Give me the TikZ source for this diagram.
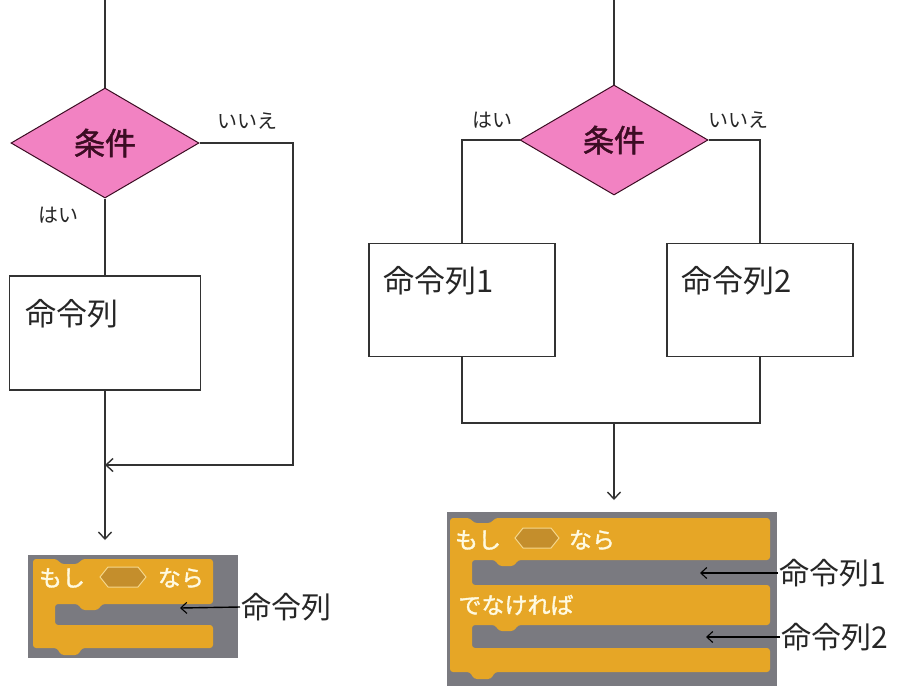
\documentclass[tikz,border=0pt]{standalone}
\usepackage{fontspec}
\setmainfont{Noto Sans CJK JP}
\newfontfamily\jpbold{Noto Sans CJK JP}[FakeBold=1.5]
\usetikzlibrary{shapes.geometric,arrows.meta}
\definecolor{pinkd}{RGB}{242,130,194}
\definecolor{maroon}{RGB}{60,12,35}
\definecolor{lineg}{RGB}{50,50,50}
\definecolor{scrorange}{RGB}{230,166,38}
\definecolor{scrgray}{RGB}{122,122,128}
\definecolor{hexfill}{RGB}{196,142,44}
\definecolor{hexedge}{RGB}{245,215,140}
\definecolor{cream}{RGB}{255,250,225}
\begin{document}
\begin{tikzpicture}[x=1pt,y=-1pt,
  flow/.style={draw=lineg,line width=1.9pt},
  arr/.style={flow,-{Straight Barb[length=7pt,width=13pt,line width=1.4pt]}},
  thinarr/.style={draw=black,line width=1.4pt,-{Straight Barb[length=6pt,width=11pt,line width=1.1pt]}},
  cond/.style={diamond,draw=maroon,line width=1pt,fill=pinkd,inner sep=0pt,minimum width=188pt,minimum height=110pt,font=\fontsize{31}{33}\selectfont\jpbold,text=maroon},
  procbox/.style={rectangle,draw=lineg,line width=1.9pt,fill=white,minimum width=191pt,minimum height=114pt},
  small/.style={font=\fontsize{20}{22}\selectfont,text=black!85},
  boxtext/.style={anchor=west,font=\fontsize{31}{33}\selectfont,text=black!85},
  scrtext/.style={font=\fontsize{23}{25}\selectfont\jpbold,text=cream},
  lbl/.style={anchor=west,font=\fontsize{30}{32}\selectfont,text=black!85,inner sep=1pt}
]
\useasboundingbox (0,0) rectangle (897,686);
\fill[white] (0,0) rectangle (897,686);

% ---------- left flowchart ----------
\coordinate (topL) at (105,0);
\node[cond] (d1) at (105,143) {条件};
\node[procbox] (b1) at (105,333) {};
\node[boxtext] (t1) at (22,314) {命令列};
\node[small] (noL) at (247,121) {いいえ};
\node[small] (yesL) at (58,215) {はい};
\coordinate (c1) at (293,465);
\coordinate (m1) at (105,465);
\coordinate (arrL) at (105,540);
\draw[flow] (topL) -- (d1.north);
\draw[flow] (d1.south) -- (b1.north);
\draw[arr] (b1.south) -- (arrL);
\draw[arr] (d1.east) -| (c1) -- (m1);

% ---------- right flowchart ----------
\coordinate (topR) at (614,0);
\node[cond] (d2) at (614,140) {条件};
\node[procbox,minimum width=186pt,minimum height=113pt] (b2) at (462,300) {};
\node[procbox,minimum width=186pt,minimum height=113pt] (b3) at (760,300) {};
\node[boxtext] (t2) at (380,281) {命令列1};
\node[boxtext] (t3) at (678,281) {命令列2};
\node[small] (yesR) at (492,120) {はい};
\node[small] (noR) at (738,120) {いいえ};
\coordinate (j) at (614,423);
\coordinate (arrR) at (614,500);
\draw[flow] (topR) -- (d2.north);
\draw[flow] (d2.west) -| (b2.north);
\draw[flow] (d2.east) -| (b3.north);
\draw[flow] (b2.south) |- (j) -| (b3.south);
\draw[arr] (j) -- (arrR);

% ---------- left scratch block ----------
\fill[scrgray] (28,555) rectangle (238,658);
\fill[scrorange,rounded corners=3pt]
  (33,559) -- (57,559) -- (61,564) -- (78,564) -- (82,559) -- (213,559)
  -- (213,604) -- (102,604) -- (98,610) -- (82,610) -- (78,604) -- (55,604)
  -- (55,625) -- (213,625) -- (213,648) -- (82,648) -- (78,655) -- (61,655)
  -- (57,648) -- (33,648) -- cycle;
\filldraw[fill=hexfill,draw=hexedge,line width=1pt]
  (100,577) -- (108,567) -- (138,567) -- (146,577) -- (138,587) -- (108,587) -- cycle;
\node[scrtext] (moshiL) at (62,578) {もし};
\node[scrtext] (naraL) at (181,578) {なら};
\node[lbl] (lblL) at (240,607) {命令列};
\coordinate (slotL) at (180,608);
\draw[thinarr] (lblL.west) -- (slotL);

% ---------- right scratch block ----------
\fill[scrgray] (447,512) rectangle (777,686);
\fill[scrorange,rounded corners=3pt]
  (450,518) -- (470,518) -- (474,523) -- (491,523) -- (495,518) -- (770,518)
  -- (770,560) -- (518,560) -- (514,566) -- (499,566) -- (495,560) -- (472,560)
  -- (472,585) -- (770,585) -- (770,625) -- (518,625) -- (514,631) -- (499,631)
  -- (495,625) -- (472,625) -- (472,648) -- (770,648) -- (770,672)
  -- (495,672) -- (491,679) -- (474,679) -- (470,672) -- (450,672) -- cycle;
\filldraw[fill=hexfill,draw=hexedge,line width=1pt]
  (515,538) -- (523,528) -- (551,528) -- (559,538) -- (551,548) -- (523,548) -- cycle;
\node[scrtext] (moshiR) at (478,540) {もし};
\node[scrtext] (naraR) at (592,540) {なら};
\node[scrtext,anchor=west] (denake) at (455,605) {でなければ};
\node[lbl] (lblR1) at (778,573) {命令列1};
\node[lbl] (lblR2) at (780,637) {命令列2};
\coordinate (slotR1) at (700,573);
\coordinate (slotR2) at (706,637);
\draw[thinarr] (lblR1.west) -- (slotR1);
\draw[thinarr] (lblR2.west) -- (slotR2);
\end{tikzpicture}
\end{document}
